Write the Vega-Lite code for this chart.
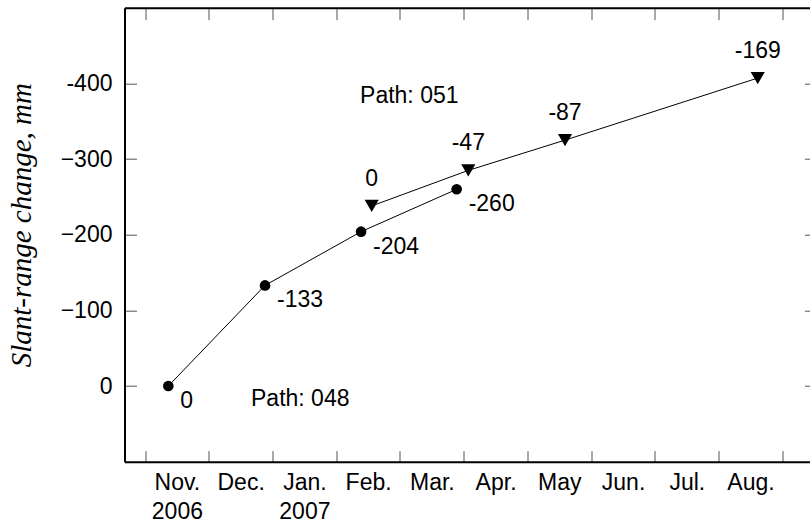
{
  "$schema": "https://vega.github.io/schema/vega-lite/v6.json",
  "width": 685,
  "height": 454,
  "autosize": {"type": "none"},
  "padding": {"left": 124.5, "top": 7.7, "right": 0, "bottom": 63.3},
  "background": "white",
  "config": {
    "view": {"stroke": null},
    "style": {"cell": {"stroke": null}},
    "font": "Liberation Sans",
    "text": {"font": "Liberation Sans", "fontSize": 23, "color": "black"}
  },
  "datasets": {
    "pts": [
      {"path": "048", "t": 0.366, "v": 0, "label": "0"},
      {"path": "048", "t": 1.883, "v": -133, "label": "-133"},
      {"path": "048", "t": 3.39, "v": -204, "label": "-204"},
      {"path": "048", "t": 4.89, "v": -260, "label": "-260"},
      {"path": "051", "t": 3.557, "v": -238, "label": "0"},
      {"path": "051", "t": 5.073, "v": -285, "label": "-47"},
      {"path": "051", "t": 6.59, "v": -325, "label": "-87"},
      {"path": "051", "t": 9.614, "v": -407, "label": "-169"}
    ],
    "notes": [
      {"text": "Path: 051", "t": 3.374, "v": -383},
      {"text": "Path: 048", "t": 1.663, "v": 17}
    ]
  },
  "data": {"name": "pts"},
  "resolve": {"axis": {"x": "independent", "y": "independent"}},
  "layer": [
    {
      "mark": {"type": "line", "color": "black", "strokeWidth": 1},
      "encoding": {
        "detail": {"field": "path"},
        "x": {
          "field": "t", "type": "quantitative",
          "scale": {"domain": [-0.3217, 10.426], "nice": false, "zero": false},
          "axis": {
            "orient": "bottom", "title": null, "grid": false,
            "values": [0, 1, 2, 3, 4, 5, 6, 7, 8, 9, 10],
            "tickSize": -11, "tickColor": "#555", "tickWidth": 1,
            "domainColor": "black", "domainWidth": 2,
            "labelPadding": 21, "labelOffset": 31.9, "labelAlign": "center", "labelBaseline": "top",
            "labelFont": "Liberation Sans", "labelFontSize": 23, "labelColor": "black",
            "labelLineHeight": 29, "labelFlush": false, "labelOverlap": false,
            "labelExpr": "[['Nov.','2006'],'Dec.',['Jan.','2007'],'Feb.','Mar.','Apr.','May','Jun.','Jul.','Aug.',''][datum.value]"
          }
        },
        "y": {
          "field": "v", "type": "quantitative",
          "scale": {"domain": [100, -500], "nice": false, "zero": false},
          "axis": {
            "orient": "left", "grid": false,
            "values": [0, -100, -200, -300, -400],
            "tickSize": -12, "tickColor": "#555", "tickWidth": 1,
            "domainColor": "black", "domainWidth": 2,
            "labelPadding": 24.5, "labelFont": "Liberation Sans", "labelFontSize": 23, "labelColor": "black",
            "labelExpr": "datum.value == -400 ? '-400' : datum.label",
            "title": "Slant-range change, mm",
            "titleFont": "Liberation Serif", "titleFontStyle": "italic", "titleFontWeight": "normal",
            "titleFontSize": 29, "titleColor": "black",
            "titleX": -94, "titleY": 217, "titleBaseline": "alphabetic", "titleAngle": -90, "titleAlign": "center"
          }
        }
      }
    },
    {
      "transform": [{"filter": "datum.path == '048'"}],
      "mark": {"type": "point", "shape": "circle", "filled": true, "color": "black", "size": 113, "opacity": 1},
      "encoding": {
        "x": {"field": "t", "type": "quantitative", "axis": null},
        "y": {"field": "v", "type": "quantitative", "axis": null}
      }
    },
    {
      "transform": [{"filter": "datum.path == '051'"}],
      "mark": {"type": "point", "shape": "triangle-down", "filled": true, "color": "black", "size": 200, "opacity": 1},
      "encoding": {
        "x": {"field": "t", "type": "quantitative", "axis": null},
        "y": {"field": "v", "type": "quantitative", "axis": null}
      }
    },
    {
      "transform": [{"filter": "datum.path == '048'"}],
      "mark": {"type": "text", "align": "left", "baseline": "middle", "dx": 12, "dy": 15},
      "encoding": {
        "x": {"field": "t", "type": "quantitative", "axis": null},
        "y": {"field": "v", "type": "quantitative", "axis": null},
        "text": {"field": "label"}
      }
    },
    {
      "transform": [{"filter": "datum.path == '051'"}],
      "mark": {"type": "text", "align": "center", "baseline": "middle", "dy": -27},
      "encoding": {
        "x": {"field": "t", "type": "quantitative", "axis": null},
        "y": {"field": "v", "type": "quantitative", "axis": null},
        "text": {"field": "label"}
      }
    },
    {
      "data": {"name": "notes"},
      "mark": {"type": "text", "align": "left", "baseline": "middle"},
      "encoding": {
        "x": {"field": "t", "type": "quantitative", "axis": null},
        "y": {"field": "v", "type": "quantitative", "axis": null},
        "text": {"field": "text"}
      }
    },
    {
      "mark": {"type": "point", "opacity": 0},
      "encoding": {
        "x": {
          "field": "t", "type": "quantitative",
          "axis": {
            "orient": "top", "title": null, "grid": false, "labels": false,
            "values": [0, 1, 2, 3, 4, 5, 6, 7, 8, 9, 10],
            "tickSize": -12, "tickColor": "#555", "tickWidth": 1,
            "domainColor": "black", "domainWidth": 2
          }
        },
        "y": {
          "field": "v", "type": "quantitative",
          "axis": {
            "orient": "right", "title": null, "grid": false, "labels": false,
            "domain": false,
            "values": [0, -100, -200, -300, -400],
            "tickSize": -5, "tickColor": "#555", "tickWidth": 1
          }
        }
      }
    }
  ]
}
